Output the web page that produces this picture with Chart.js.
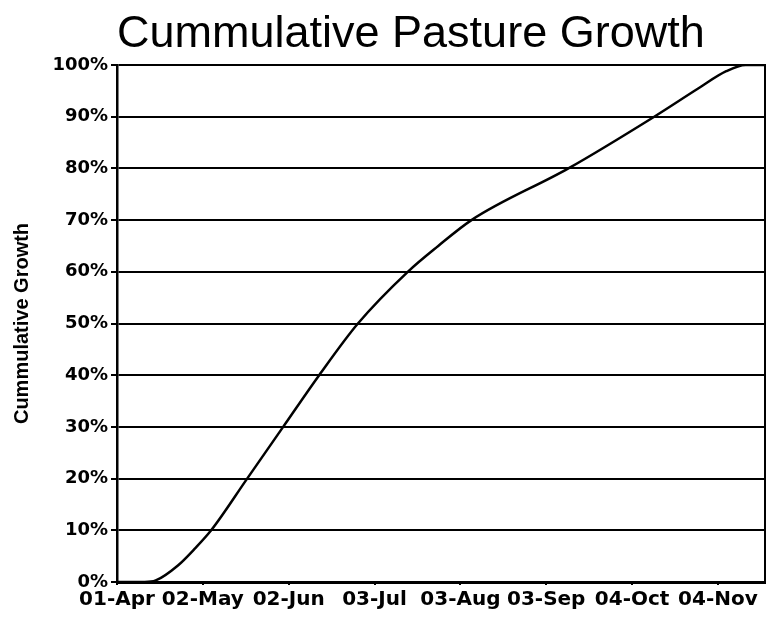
<!DOCTYPE html>
<html>
<head>
<meta charset="utf-8">
<script src="https://cdn.jsdelivr.net/npm/chart.js@4/dist/chart.umd.min.js"></script>
<style>
  body { margin: 0; background: #fff; }
  #wrap { width: 768px; height: 619px; }
</style>
</head>
<body>
<div id="wrap"><canvas id="chartGrowth" width="768" height="619"></canvas></div>
<script>
// --- Data (days since 01-Apr, cumulative %) ---
const tickDays   = [0, 31, 62, 93, 124, 155, 186, 217];
const tickLabels = ['01-Apr', '02-May', '02-Jun', '03-Jul', '03-Aug', '03-Sep', '04-Oct', '04-Nov'];
const growthDays = [0, 10, 14, 22, 28, 34, 47, 60, 73, 87, 105, 116, 128, 163, 194, 210, 220, 227, 234];
const growthPct  = [0, 0, 0.3, 3.2, 6.4, 10, 20, 30, 40, 50, 60, 65, 70, 80, 90, 95.5, 98.8, 100, 100];

const points = growthDays.map((d, i) => ({ x: d, y: growthPct[i] }));

const ctx = document.getElementById('chartGrowth').getContext('2d');
new Chart(ctx, {
  type: 'line',
  data: {
    datasets: [{
      label: 'Cummulative Growth',
      data: points,
      borderColor: '#000',
      borderWidth: 2.5,
      pointRadius: 0,
      fill: false,
      cubicInterpolationMode: 'monotone'
    }]
  },
  options: {
    responsive: false,
    animation: false,
    layout: { padding: { right: 3, bottom: 0 } },
    plugins: {
      legend: { display: false },
      tooltip: { enabled: false },
      title: {
        display: true,
        text: 'Cummulative Pasture Growth',
        fullSize: false,
        align: 'start',
        color: '#000',
        font: { family: '"Liberation Sans", Arial, sans-serif', size: 45, weight: 'normal', lineHeight: 1.2 },
        padding: { top: 8, bottom: 3 }
      }
    },
    scales: {
      x: {
        type: 'linear',
        min: 0,
        max: 234,
        afterBuildTicks: scale => { scale.ticks = tickDays.map(v => ({ value: v })); },
        afterFit: scale => { scale.height = 37; },
        grid: { display: true, drawOnChartArea: false, drawTicks: true, tickLength: 3, color: '#000', lineWidth: 2 },
        border: { display: true, color: '#000', width: 3 },
        ticks: {
          autoSkip: false,
          maxRotation: 0,
          padding: 3,
          color: '#000',
          font: { family: '"DejaVu Sans", sans-serif', size: 20, weight: 'bold' },
          callback: v => tickLabels[tickDays.indexOf(v)]
        }
      },
      y: {
        min: 0,
        max: 100,
        afterFit: scale => { scale.width = 117; },
        grid: { color: '#000', lineWidth: 2, drawTicks: true, tickLength: 6 },
        border: { display: true, color: '#000', width: 2.5 },
        ticks: {
          stepSize: 10,
          padding: 3,
          color: '#000',
          font: { family: '"DejaVu Sans", sans-serif', size: 18, weight: 'bold' },
          callback: v => v + '%'
        },
        title: {
          display: true,
          text: 'Cummulative Growth',
          color: '#000',
          font: { family: '"Liberation Sans Narrow", "Liberation Sans", Arial, sans-serif', size: 20, weight: 'bold' },
          padding: { top: 10, bottom: 0 }
        }
      },
      y2: {
        position: 'right',
        min: 0,
        max: 100,
        afterFit: scale => { scale.width = 0; },
        grid: { drawOnChartArea: false, drawTicks: false },
        border: { display: true, color: '#000', width: 2 },
        ticks: { display: false }
      }
    }
  }
});
</script>
</body>
</html>
